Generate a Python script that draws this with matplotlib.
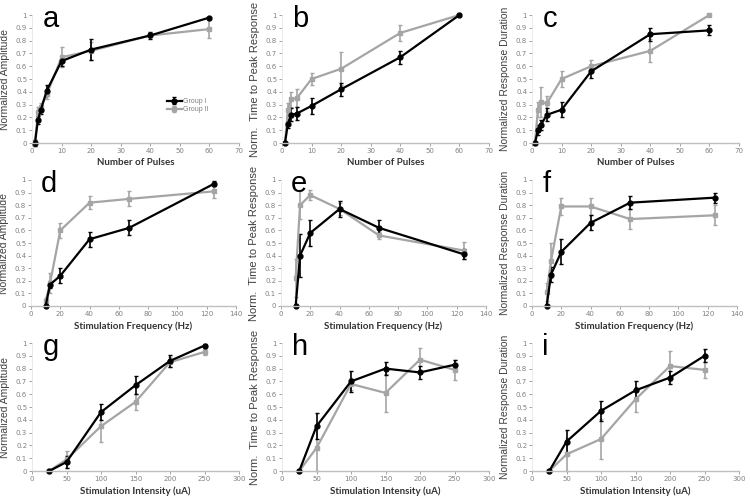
import matplotlib.pyplot as plt
import numpy as np

# x values for each row
pulses = [1, 2, 3, 5, 10, 20, 40, 60]
freq = [10, 13, 20, 40, 67, 125]
intensity = [25, 50, 100, 150, 200, 250]

# row 1: number of pulses
amp_p_g1 = [0, 0.18, 0.26, 0.41, 0.64, 0.73, 0.84, 0.98]
amp_p_g1_err = [0.02, 0.03, 0.03, 0.04, 0.04, 0.08, 0.03, 0.0]
amp_p_g2 = [0, 0.24, 0.28, 0.38, 0.67, 0.72, 0.84, 0.89]
amp_p_g2_err = [0.02, 0.04, 0.03, 0.04, 0.08, 0.07, 0.02, 0.07]

ttp_p_g1 = [0, 0.15, 0.22, 0.23, 0.29, 0.42, 0.67, 1.0]
ttp_p_g1_err = [0, 0.03, 0.05, 0.05, 0.06, 0.05, 0.05, 0]
ttp_p_g2 = [0, 0.26, 0.34, 0.35, 0.50, 0.58, 0.86, 1.0]
ttp_p_g2_err = [0, 0.05, 0.06, 0.07, 0.05, 0.13, 0.06, 0]

dur_p_g1 = [0, 0.10, 0.14, 0.22, 0.26, 0.56, 0.85, 0.88]
dur_p_g1_err = [0, 0.04, 0.04, 0.05, 0.06, 0.05, 0.05, 0.04]
dur_p_g2 = [0, 0.26, 0.32, 0.31, 0.50, 0.60, 0.72, 1.0]
dur_p_g2_err = [0, 0.06, 0.12, 0.06, 0.06, 0.05, 0.09, 0]

# row 2: stimulation frequency
amp_f_g1 = [0, 0.17, 0.24, 0.53, 0.62, 0.97]
amp_f_g1_err = [0, 0.03, 0.06, 0.06, 0.06, 0.02]
amp_f_g2 = [0.04, 0.18, 0.60, 0.82, 0.85, 0.91]
amp_f_g2_err = [0.02, 0.08, 0.06, 0.05, 0.06, 0.05]

ttp_f_g1 = [0, 0.40, 0.58, 0.77, 0.62, 0.41]
ttp_f_g1_err = [0, 0.17, 0.10, 0.06, 0.06, 0.04]
ttp_f_g2 = [0.22, 0.80, 0.88, 0.77, 0.56, 0.44]
ttp_f_g2_err = [0.15, 0.11, 0.04, 0.05, 0.03, 0.07]

dur_f_g1 = [0, 0.25, 0.43, 0.66, 0.82, 0.86]
dur_f_g1_err = [0, 0.06, 0.10, 0.06, 0.05, 0.04]
dur_f_g2 = [0.11, 0.36, 0.79, 0.79, 0.69, 0.72]
dur_f_g2_err = [0.07, 0.14, 0.07, 0.07, 0.08, 0.08]

# row 3: stimulation intensity
amp_i_g1 = [0, 0.07, 0.46, 0.67, 0.86, 0.98]
amp_i_g1_err = [0, 0.05, 0.06, 0.07, 0.05, 0.01]
amp_i_g2 = [0, 0.09, 0.35, 0.54, 0.85, 0.93]
amp_i_g2_err = [0, 0.07, 0.12, 0.06, 0.04, 0.02]

ttp_i_g1 = [0, 0.35, 0.70, 0.80, 0.77, 0.83]
ttp_i_g1_err = [0, 0.10, 0.08, 0.05, 0.05, 0.04]
ttp_i_g2 = [0, 0.18, 0.68, 0.61, 0.87, 0.79]
ttp_i_g2_err = [0, 0.18, 0.05, 0.15, 0.09, 0.08]

dur_i_g1 = [0, 0.23, 0.47, 0.63, 0.73, 0.90]
dur_i_g1_err = [0, 0.09, 0.08, 0.07, 0.05, 0.05]
dur_i_g2 = [0, 0.13, 0.25, 0.56, 0.82, 0.79]
dur_i_g2_err = [0, 0.13, 0.16, 0.10, 0.12, 0.06]

ylabels = ['Normalized Amplitude', 'Norm.  Time to Peak Response', 'Normalized Response Duration']
xlabels = ['Number of Pulses', 'Stimulation Frequency (Hz)', 'Stimulation Intensity (uA)']
letters = ['a', 'b', 'c', 'd', 'e', 'f', 'g', 'h', 'i']

panels = [
    (pulses, amp_p_g1, amp_p_g1_err, amp_p_g2, amp_p_g2_err),
    (pulses, ttp_p_g1, ttp_p_g1_err, ttp_p_g2, ttp_p_g2_err),
    (pulses, dur_p_g1, dur_p_g1_err, dur_p_g2, dur_p_g2_err),
    (freq, amp_f_g1, amp_f_g1_err, amp_f_g2, amp_f_g2_err),
    (freq, ttp_f_g1, ttp_f_g1_err, ttp_f_g2, ttp_f_g2_err),
    (freq, dur_f_g1, dur_f_g1_err, dur_f_g2, dur_f_g2_err),
    (intensity, amp_i_g1, amp_i_g1_err, amp_i_g2, amp_i_g2_err),
    (intensity, ttp_i_g1, ttp_i_g1_err, ttp_i_g2, ttp_i_g2_err),
    (intensity, dur_i_g1, dur_i_g1_err, dur_i_g2, dur_i_g2_err),
]

xlims = [(0, 70, 10), (0, 140, 20), (0, 300, 50)]

W, H = 750, 503
fig = plt.figure(figsize=(7.5, 5.03), dpi=100)

# axes boxes in pixels: (left, top, right, bottom)
row_px = [(15, 143), (180, 306), (343, 471)]
col_px = [[(32, 239), (282, 489), (532, 739)],
          [(31, 236), (281, 486), (532, 737)],
          [(32, 239), (282, 489), (532, 739)]]

GRAY = '#a5a5a5'
TICK = '#808080'

for i, (x, g1, e1, g2, e2) in enumerate(panels):
    r, c = divmod(i, 3)
    top, bot = row_px[r]
    left, right = col_px[r][c]
    ax = fig.add_axes([left / W, 1 - bot / H, (right - left) / W, (bot - top) / H])

    ax.errorbar(x, g2, yerr=e2, color=GRAY, marker='s', markersize=3.5, lw=1.6,
                capsize=1.5, elinewidth=1.2, capthick=1.0, clip_on=False, label='Group II')
    ax.errorbar(x, g1, yerr=e1, color='black', marker='o', markersize=3.5, lw=1.6,
                capsize=1.5, elinewidth=1.2, capthick=1.0, clip_on=False, label='Group I')

    lo, hi, step = xlims[r]
    ax.set_xlim(lo, hi)
    ax.set_xticks(np.arange(lo, hi + 1, step))
    ax.set_ylim(0, 1)
    ax.set_yticks(np.arange(0, 1.01, 0.1))
    ax.set_yticklabels(['0', '0.1', '0.2', '0.3', '0.4', '0.5', '0.6', '0.7', '0.8', '0.9', '1'])

    for s in ['top', 'right']:
        ax.spines[s].set_visible(False)
    ax.spines['bottom'].set_color('#bfbfbf')
    ax.spines['bottom'].set_linewidth(1.0)
    ax.spines['left'].set_color('#e6e6e6')
    ax.spines['left'].set_linewidth(0.6)
    ax.tick_params(labelsize=5, colors=TICK, length=2, width=0.5, pad=1.5)

    ax.set_ylabel(ylabels[c], fontsize=7.5 if c != 1 else 8, family='Liberation Sans',
                  color='#404040', labelpad=4)
    ax.set_xlabel(xlabels[r], fontsize=7, fontweight='bold', family='Lato',
                  color='#333333', labelpad=3)

    ax.text(0.05, 1 - 12 / (bot - top), letters[i], transform=ax.transAxes,
            fontsize=21, family='Liberation Sans', va='baseline', ha='left')

    if i == 0:
        h, l = ax.get_legend_handles_labels()
        ax.legend(h[::-1], l[::-1], loc='upper left', bbox_to_anchor=(0.62, 0.40),
                  frameon=False, prop={'size': 5, 'family': 'Liberation Sans'},
                  handlelength=2.2, handletextpad=0.1, labelspacing=0.2,
                  labelcolor=TICK)

fig.savefig('out.png', dpi=100)
